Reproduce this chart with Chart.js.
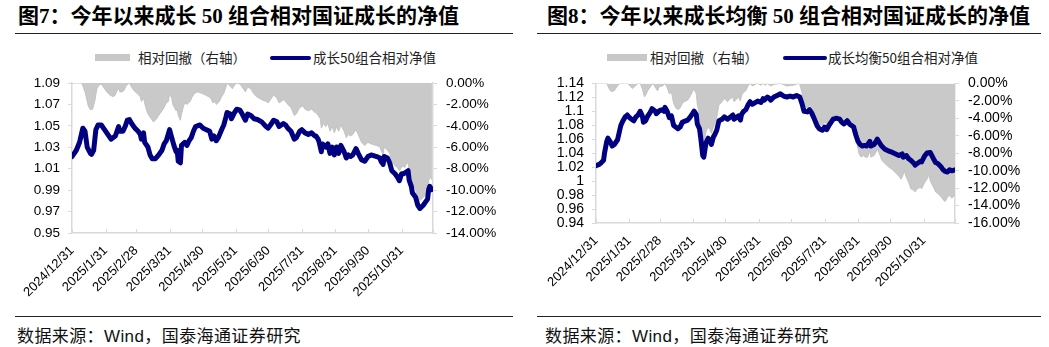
<!DOCTYPE html>
<html><head><meta charset="utf-8">
<script src="https://cdn.jsdelivr.net/npm/chart.js@4.4.1/dist/chart.umd.min.js"></script>
<style>
html,body{margin:0;padding:0;background:#fff;width:1049px;height:347px;overflow:hidden;position:relative;font-family:"Liberation Sans","Noto Sans CJK SC",sans-serif;}
.abs{position:absolute;white-space:nowrap;}
.title{font-family:"Liberation Serif","Noto Sans CJK SC",serif;font-weight:bold;font-size:21px;color:#000;line-height:21px;}
.rule{position:absolute;height:0;border-top:1.5px solid #222;}
.leg{font-family:"Noto Sans CJK SC",sans-serif;font-size:13.5px;color:#222;line-height:14px;}
.src{font-family:"Liberation Sans","Noto Sans CJK SC",sans-serif;font-size:17px;letter-spacing:0.4px;color:#111;line-height:18px;}
canvas{position:absolute;}
</style></head>
<body>
<div class="abs title" style="left:18px;top:6px;">图7：今年以来成长 50 组合相对国证成长的净值</div>
<div class="rule" style="left:15px;top:33px;width:498px;"></div>
<div class="abs" style="left:95px;top:54px;width:35px;height:7px;background:#c8c8c8;"></div>
<div class="abs leg" style="left:138px;top:50px;">相对回撤（右轴）</div>
<div class="abs" style="left:270px;top:55.5px;width:41px;height:4px;border-radius:2px;background:#000080;"></div>
<div class="abs leg" style="left:313px;top:50px;">成长50组合相对净值</div>
<canvas id="c1" width="525" height="240" style="left:0;top:66px;"></canvas>
<div class="rule" style="left:15px;top:316px;width:498px;"></div>
<div class="abs src" style="left:17px;top:328px;">数据来源：Wind，国泰海通证券研究</div>

<div class="abs title" style="left:547px;top:6px;">图8：今年以来成长均衡 50 组合相对国证成长的净值</div>
<div class="rule" style="left:537px;top:33px;width:504px;"></div>
<div class="abs" style="left:607px;top:54px;width:40px;height:7px;background:#c8c8c8;"></div>
<div class="abs leg" style="left:650px;top:50px;">相对回撤（右轴）</div>
<div class="abs" style="left:783px;top:55.5px;width:44px;height:4px;border-radius:2px;background:#000080;"></div>
<div class="abs leg" style="left:828px;top:50px;">成长均衡50组合相对净值</div>
<canvas id="c2" width="524" height="240" style="left:525px;top:66px;"></canvas>
<div class="rule" style="left:537px;top:316px;width:504px;"></div>
<div class="abs src" style="left:545px;top:328px;">数据来源：Wind，国泰海通证券研究</div>

<script>
// ---- shared x axis: calendar days since 2024/12/31 ----
const xTickDays = [0,31,59,90,120,151,181,212,243,273,304];
const xTickLabels = ['2024/12/31','2025/1/31','2025/2/28','2025/3/31','2025/4/30','2025/5/31','2025/6/30','2025/7/31','2025/8/31','2025/9/30','2025/10/31'];
const xEndDay = 333;

// ---- Figure 7: 成长50组合 ----
const navDays1 = [0,4,7,10,12,14,17,18,20,22,24,27,30,33,36,40,41,43,44,47,49,51,53,55,58,61,63,64,66,67,70,72,74,77,80,83,85,87,90,92,94,96,97,98,100,101,104,106,108,110,112,114,118,121,124,127,129,131,133,135,138,140,142,143,146,147,150,152,155,157,160,162,165,168,171,175,179,181,184,186,189,191,193,195,197,199,202,205,207,210,212,215,218,221,224,225,227,228,230,231,234,236,238,240,242,244,246,248,251,253,255,257,259,262,264,267,270,273,276,281,284,285,287,288,291,293,295,298,300,302,304,306,308,310,311,313,314,317,319,321,324,326,328,329,330,332];
const nav1 = [1.0214,1.0273,1.0347,1.0479,1.0450,1.0303,1.0244,1.0235,1.0273,1.0465,1.0509,1.0509,1.0465,1.0421,1.0377,1.0406,1.0435,1.0494,1.0450,1.0450,1.0494,1.0553,1.0559,1.0523,1.0479,1.0450,1.0421,1.0377,1.0435,1.0347,1.0303,1.0229,1.0194,1.0194,1.0229,1.0273,1.0332,1.0362,1.0465,1.0391,1.0318,1.0259,1.0273,1.0170,1.0156,1.0318,1.0347,1.0318,1.0362,1.0391,1.0450,1.0494,1.0509,1.0479,1.0465,1.0450,1.0377,1.0406,1.0362,1.0391,1.0465,1.0509,1.0582,1.0626,1.0611,1.0567,1.0626,1.0656,1.0647,1.0611,1.0553,1.0611,1.0597,1.0567,1.0560,1.0538,1.0494,1.0479,1.0523,1.0553,1.0538,1.0494,1.0509,1.0523,1.0509,1.0479,1.0450,1.0377,1.0391,1.0450,1.0465,1.0435,1.0421,1.0435,1.0406,1.0406,1.0377,1.0347,1.0259,1.0332,1.0303,1.0332,1.0244,1.0303,1.0229,1.0303,1.0244,1.0318,1.0259,1.0200,1.0229,1.0214,1.0229,1.0288,1.0244,1.0185,1.0170,1.0214,1.0229,1.0214,1.0200,1.0170,1.0141,1.0214,1.0200,1.0156,1.0082,1.0053,1.0024,0.9988,1.0053,1.0053,1.0068,1.0082,0.9994,0.9935,0.9876,0.9832,0.9759,0.9729,0.9759,0.9788,0.9817,0.9906,0.9935,0.9906];
const ddDays1 = [0,9,12,15,17,19,21,23,25,27,29,32,35,38,40,41,43,44,46,48,50,53,55,57,60,63,64,66,68,70,73,75,77,80,81,83,85,87,89,90,92,93,96,97,98,100,101,103,104,106,109,111,113,116,120,123,126,128,130,132,133,136,138,140,142,143,146,148,150,152,155,157,160,162,165,167,170,175,179,181,184,186,189,191,193,195,197,199,202,205,207,210,213,215,218,221,224,225,227,229,230,232,234,236,238,240,242,244,246,248,251,253,255,257,259,262,264,267,270,273,276,281,284,285,287,288,291,293,295,298,300,302,305,307,308,310,311,313,314,317,319,321,324,326,328,329,331,332];
const dd1 = [0,0,-0.82,-2.15,-2.50,-2.44,-1.71,-0.53,-0.18,-0.09,-0.38,-0.82,-1.12,-1.27,-1.12,-0.82,-0.47,-0.82,-0.82,-0.68,-0.24,0,-0.38,-0.68,-0.97,-1.27,-1.71,-1.41,-2.29,-2.88,-3.32,-3.62,-3.47,-3.03,-2.88,-2.59,-2.29,-1.85,-1.71,-0.97,-1.41,-2.00,-2.59,-2.44,-3.03,-3.47,-2.88,-2.15,-1.85,-2.00,-1.71,-1.27,-0.97,-0.82,-0.97,-1.12,-1.27,-1.41,-1.85,-1.71,-2.00,-1.71,-1.27,-0.97,-0.38,0,-0.29,-0.53,-0.18,0,-0.09,-0.38,-0.82,-0.38,-0.53,-0.90,-1.26,-1.56,-1.71,-1.85,-1.41,-1.12,-1.41,-1.85,-1.71,-1.56,-1.71,-2.00,-2.29,-3.03,-2.88,-2.29,-2.15,-2.44,-2.59,-2.44,-2.74,-2.74,-3.03,-3.32,-4.21,-3.77,-4.06,-3.77,-4.50,-4.06,-4.65,-4.06,-4.50,-3.91,-4.50,-5.09,-4.80,-4.94,-4.80,-4.35,-4.80,-5.53,-5.83,-5.53,-5.68,-5.83,-5.97,-6.27,-6.71,-5.97,-6.27,-6.56,-7.30,-7.74,-7.88,-8.18,-7.74,-7.88,-7.59,-7.44,-8.18,-8.77,-9.36,-9.94,-10.68,-10.97,-10.68,-10.39,-10.09,-9.06,-8.77,-9.06];
const leftTicks1 = [0.95,0.97,0.99,1.01,1.03,1.05,1.07,1.09];
const rightTicks1 = [-14,-12,-10,-8,-6,-4,-2,0];

// ---- Figure 8: 成长均衡50组合 ----
const navDays2 = [0,3,5,7,8,10,11,13,15,17,20,21,23,25,27,29,31,33,35,37,39,41,43,44,46,48,50,52,55,56,59,61,63,64,66,68,70,72,74,76,78,80,82,85,87,90,91,93,94,96,97,99,100,102,104,106,107,109,110,112,114,117,119,122,124,127,128,131,132,134,135,137,139,141,143,145,148,150,153,155,156,159,161,162,165,168,171,174,177,180,183,186,189,191,193,196,198,200,202,205,207,210,212,214,216,218,220,223,226,228,230,233,235,237,239,241,243,245,247,249,251,254,255,258,261,263,265,268,271,275,278,281,284,285,288,290,292,295,296,298,301,302,305,307,310,313,315,317,320,322,324,326,328,330,333];
const nav2 = [1.0220,1.0239,1.0266,1.0298,1.0411,1.0570,1.0615,1.0570,1.0502,1.0525,1.0593,1.0661,1.0797,1.0865,1.0920,1.0947,1.0910,1.0887,1.0865,1.0920,1.0947,1.1001,1.0933,1.0842,1.0865,1.0933,1.0978,1.1037,1.1001,1.0965,1.1010,1.1023,1.1001,1.1056,1.1001,1.0910,1.0933,1.0797,1.0774,1.0751,1.0774,1.0842,1.0856,1.0874,1.0910,1.0978,1.1001,1.0956,1.0819,1.0751,1.0638,1.0366,1.0343,1.0547,1.0615,1.0570,1.0525,1.0638,1.0661,1.0729,1.0865,1.0887,1.0920,1.0887,1.0910,1.0947,1.0887,1.0920,1.0933,1.0874,1.0956,1.1001,1.1023,1.1091,1.1137,1.1101,1.1128,1.1146,1.1128,1.1182,1.1159,1.1205,1.1182,1.1159,1.1205,1.1228,1.1250,1.1219,1.1205,1.1219,1.1205,1.1228,1.1205,1.1114,1.1001,1.0992,1.1023,1.0978,1.0910,1.0797,1.0751,1.0729,1.0774,1.0737,1.0797,1.0842,1.0887,1.0901,1.0887,1.0842,1.0819,1.0865,1.0819,1.0797,1.0774,1.0661,1.0570,1.0525,1.0502,1.0511,1.0502,1.0570,1.0502,1.0525,1.0601,1.0547,1.0502,1.0457,1.0434,1.0411,1.0389,1.0366,1.0389,1.0343,1.0366,1.0321,1.0298,1.0253,1.0230,1.0253,1.0284,1.0275,1.0366,1.0402,1.0411,1.0321,1.0266,1.0253,1.0207,1.0162,1.0139,1.0130,1.0162,1.0148,1.0162];
const ddDays2 = [0,10,12,14,17,19,21,23,29,32,34,36,39,41,43,45,46,48,51,53,55,57,59,62,64,66,68,70,72,74,76,78,80,82,85,87,90,91,93,94,96,97,99,100,102,104,106,107,109,110,112,114,117,119,122,124,127,128,131,132,134,135,137,139,141,143,145,148,150,153,155,157,159,162,165,171,177,183,188,189,191,193,196,198,200,202,205,207,210,212,214,216,218,220,223,226,228,230,233,235,237,239,241,242,244,246,248,250,252,254,255,258,261,263,265,268,271,275,278,281,283,285,286,288,290,292,295,296,298,301,302,305,307,309,310,313,315,317,320,322,324,326,328,330,333];
const dd2 = [0,0,-0.58,-0.94,-0.83,-0.47,-0.11,0,0,-0.36,-0.58,-0.36,0,0,-0.65,-1.56,-1.38,-0.83,-0.29,0,-0.47,-0.83,-0.36,-0.29,0,-0.47,-1.20,-1.02,-2.29,-2.83,-3.01,-2.83,-2.29,-2.10,-1.92,-1.56,-0.83,-0.65,-1.20,-2.47,-3.55,-4.82,-6.82,-7.00,-5.55,-5.00,-5.37,-5.73,-5.00,-4.64,-3.92,-2.47,-2.10,-1.74,-2.10,-1.81,-1.56,-2.10,-1.74,-1.56,-2.03,-1.38,-1.02,-0.83,-0.29,0,-0.29,-0.11,0,-0.22,0,-0.22,0,-0.29,-0.11,0,-0.29,-0.22,0,-0.11,-1.02,-2.47,-2.83,-2.47,-3.01,-3.55,-4.28,-4.64,-4.82,-4.46,-4.64,-4.28,-3.92,-3.74,-3.63,-3.74,-4.10,-4.28,-3.92,-4.28,-4.46,-4.64,-5.73,-6.82,-8.09,-8.45,-8.27,-8.45,-8.45,-7.73,-8.45,-8.27,-7.54,-8.09,-8.81,-9.18,-9.54,-9.90,-10.26,-10.63,-10.99,-10.45,-10.08,-10.81,-11.35,-12.08,-12.26,-12.44,-12.08,-11.90,-12.08,-11.35,-10.99,-10.45,-11.17,-11.90,-12.44,-12.62,-12.98,-13.35,-13.53,-13.06,-12.80,-13.17,-12.80];
const leftTicks2 = [0.94,0.96,0.98,1.00,1.02,1.04,1.06,1.08,1.10,1.12,1.14];
const rightTicks2 = [-16,-14,-12,-10,-8,-6,-4,-2,0];

const AXIS_GRAY = '#d9d9d9';
const NAVY = '#000080';

const innerXTicks = {
  id: 'innerXTicks',
  afterDraw(chart) {
    const xs = chart.scales.x, a = chart.chartArea, ctx = chart.ctx;
    ctx.save();
    ctx.strokeStyle = AXIS_GRAY; ctx.lineWidth = 1;
    xTickDays.concat([xEndDay]).forEach(v => {
      const px = Math.round(xs.getPixelForValue(v)) + 0.5;
      ctx.beginPath(); ctx.moveTo(px, a.bottom); ctx.lineTo(px, a.bottom - 4); ctx.stroke();
    });
    ctx.restore();
  }
};

function makeChart(id, o) {
  const font = {family: '"Liberation Sans", Arial, sans-serif', size: o.fs};
  return new Chart(document.getElementById(id), {
    type: 'line',
    data: {datasets: [
      {data: o.navDays.map((d, i) => ({x: d, y: o.nav[i]})), yAxisID: 'y', borderColor: NAVY,
       borderWidth: 5, pointRadius: 0, tension: 0, fill: false, order: 0, borderJoinStyle: 'round', borderCapStyle: 'round'},
      {data: o.ddDays.map((d, i) => ({x: d, y: o.dd[i]})), yAxisID: 'y2', borderColor: '#bdbdbd',
       borderWidth: 0.8, backgroundColor: '#c9c9c9', pointRadius: 0, tension: 0, fill: 'origin', order: 1}
    ]},
    options: {
      responsive: false, animation: false, events: [],
      layout: {padding: {top: o.padTop, left: 0, right: 0, bottom: 0}},
      plugins: {legend: {display: false}, tooltip: {enabled: false}},
      scales: {
        x: {type: 'linear', min: 0, max: xEndDay,
            afterBuildTicks: s => { s.ticks = xTickDays.map(v => ({value: v})); },
            afterFit: s => { s.height = o.xH; },
            ticks: {autoSkip: false, minRotation: 45, maxRotation: 45, padding: 10, color: '#000',
                    font: {family: font.family, size: 13},
                    callback: v => { const i = xTickDays.indexOf(v); return i >= 0 ? xTickLabels[i] : ''; }},
            grid: {display: true, drawOnChartArea: false, drawTicks: false, color: AXIS_GRAY},
            border: {color: AXIS_GRAY, width: 1.5}},
        y: {position: 'left', min: o.leftTicks[0], max: o.leftTicks[o.leftTicks.length - 1],
            afterBuildTicks: s => { s.ticks = o.leftTicks.map(v => ({value: v})); },
            afterFit: s => { s.width = o.yW; },
            ticks: {autoSkip: false, padding: 8, color: '#000', font, callback: o.leftFmt},
            grid: {drawOnChartArea: false, tickLength: 4, color: AXIS_GRAY},
            border: {color: AXIS_GRAY, width: 1.5}},
        y2: {position: 'right', min: o.rightTicks[0], max: 0,
            afterBuildTicks: s => { s.ticks = o.rightTicks.map(v => ({value: v})); },
            afterFit: s => { s.width = o.y2W; },
            ticks: {autoSkip: false, padding: 9, color: '#000', font, callback: v => v.toFixed(2) + '%'},
            grid: {drawOnChartArea: false, tickLength: 4, color: AXIS_GRAY},
            border: {color: AXIS_GRAY, width: 1.5}}
      }
    },
    plugins: [innerXTicks]
  });
}

makeChart('c1', {navDays: navDays1, nav: nav1, ddDays: ddDays1, dd: dd1, leftTicks: leftTicks1, rightTicks: rightTicks1,
  leftFmt: v => v.toFixed(2), fs: 13.5, padTop: 8, yW: 72, y2W: 92, xH: 73});
makeChart('c2', {navDays: navDays2, nav: nav2, ddDays: ddDays2, dd: dd2, leftTicks: leftTicks2, rightTicks: rightTicks2,
  leftFmt: v => String(+v.toFixed(2)), fs: 14, padTop: 10, yW: 71, y2W: 94, xH: 83});
</script>
</body></html>
